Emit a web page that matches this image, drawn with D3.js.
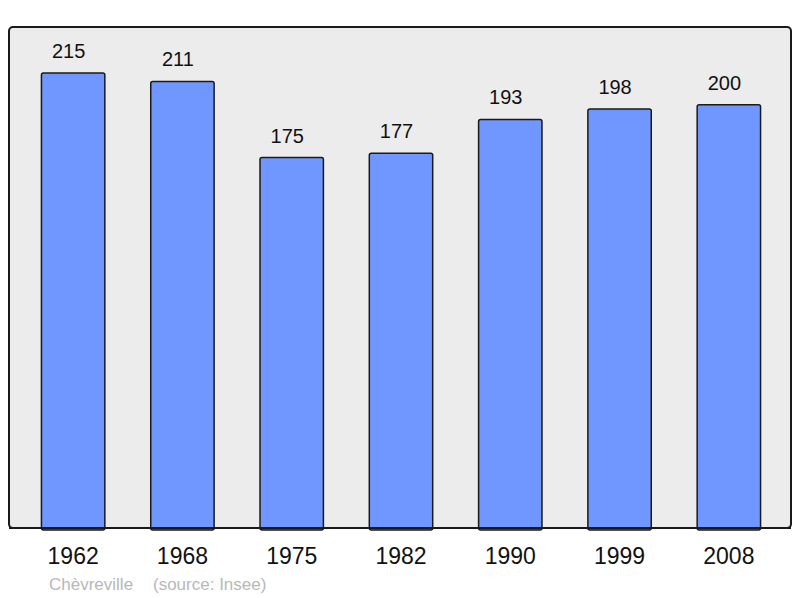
<!DOCTYPE html>
<html><head><meta charset="utf-8">
<script src="https://cdn.jsdelivr.net/npm/d3@7"></script>
<style>body{margin:0;background:#fff}svg{display:block}text{font-family:"Liberation Sans",Arial,sans-serif}</style>
</head><body><svg id="c" width="800" height="598"></svg>
<script>
const years = ["1962","1968","1975","1982","1990","1999","2008"];
const population = [215,211,175,177,193,198,200];
const sourceLabel = "Chèvreville";
const sourceNote = "(source: Insee)";

const svg = d3.select("#c");
const frame = {x0:9, y0:27, x1:791, y1:528};
const x = d3.scaleBand().domain(years).range([18.5, 783.5]).paddingInner(0.42).paddingOuter(0.21);
const y = d3.scaleLinear().domain([0, 236.7]).range([frame.y1, frame.y0]);

svg.append("rect").attr("x",frame.x0).attr("y",frame.y0).attr("width",frame.x1-frame.x0).attr("height",frame.y1-frame.y0)
  .attr("rx",4).attr("fill","#ececec").attr("stroke","#1a1a1a").attr("stroke-width",2);

svg.selectAll("rect.bar").data(population).join("rect").attr("class","bar")
  .attr("x",(d,i)=>x(years[i])).attr("width",x.bandwidth())
  .attr("y",d=>y(d)).attr("height",d=>y(0)-y(d)+2).attr("rx",2)
  .attr("fill","#7096ff").attr("stroke","#1a1a1a").attr("stroke-width",1.5);

svg.append("line").attr("x1",frame.x0).attr("x2",frame.x1).attr("y1",frame.y1).attr("y2",frame.y1)
  .attr("stroke","#1a1a1a").attr("stroke-width",2);

svg.selectAll("text.val").data(population).join("text").attr("class","val")
  .attr("x",(d,i)=>x(years[i])+x.bandwidth()/2-4.5).attr("y",d=>y(d)-15)
  .attr("text-anchor","middle").attr("font-size",20).attr("fill","#111").text(d=>d);

const xAxis = d3.axisBottom(x).tickSize(0).tickPadding(0);
const ax = svg.append("g").attr("transform",`translate(0,${frame.y1})`).call(xAxis);
ax.select(".domain").remove();
ax.selectAll("text").attr("font-size",23).attr("fill","#111").attr("dy",0).attr("y",36)
  .attr("font-family","Liberation Sans, Arial, sans-serif");

svg.append("text").attr("x",49).attr("y",590).attr("font-size",17).attr("fill","#b8b8b8").text(sourceLabel);
svg.append("text").attr("x",153).attr("y",590).attr("font-size",17).attr("fill","#b8b8b8").text(sourceNote);
</script></body></html>
